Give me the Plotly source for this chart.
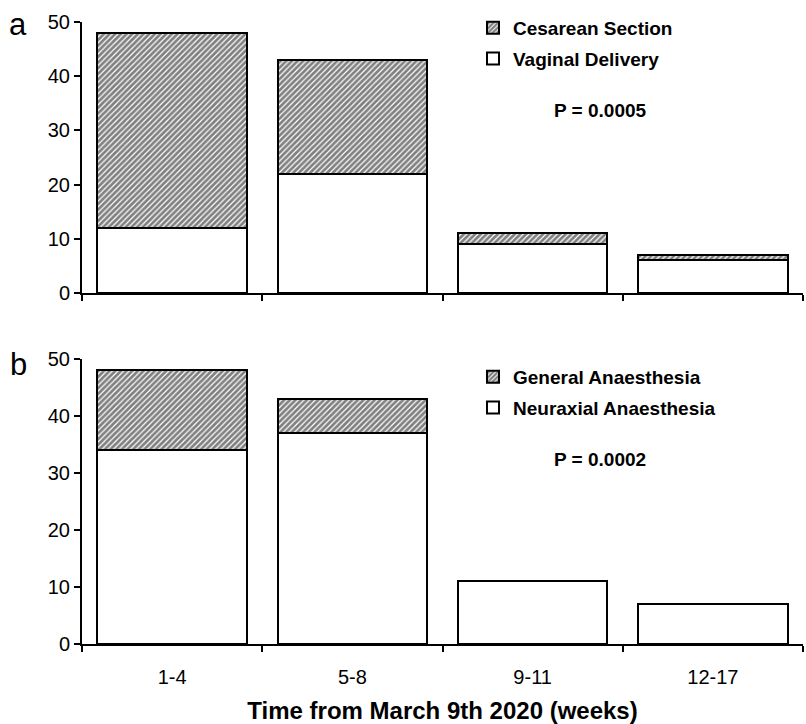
import plotly.graph_objects as go

categories = ["1-4", "5-8", "9-11", "12-17"]
vaginal = [12, 22, 9, 6]
cesarean = [36, 21, 2, 1]
neuraxial = [34, 37, 11, 7]
general = [14, 6, 0, 0]
p_a = "P = 0.0005"
p_b = "P = 0.0002"

FONT = "Arial, Liberation Sans, sans-serif"
W, H = 806, 724

def px_x(x):
    return x / W

def px_y(y):
    return 1 - y / H

hatch = dict(shape="/", fgcolor="black", bgcolor="white", size=4, solidity=0.7)
line = dict(color="black", width=2)
bw = 0.83

fig = go.Figure()
fig.add_trace(go.Bar(x=categories, y=vaginal, name="Vaginal Delivery", width=bw, legendgroup="vd",
                     legendrank=2, marker=dict(color="white", line=line),
                     xaxis="x", yaxis="y", legend="legend"))
fig.add_trace(go.Bar(x=categories, y=cesarean, name="Cesarean Section", width=bw, legendgroup="cs",
                     legendrank=1, marker=dict(color="white", line=line, pattern=hatch),
                     xaxis="x", yaxis="y", legend="legend"))
fig.add_trace(go.Bar(x=categories, y=neuraxial, name="Neuraxial Anaesthesia", width=bw, legendgroup="na",
                     legendrank=2, marker=dict(color="white", line=line),
                     xaxis="x2", yaxis="y2", legend="legend2"))
fig.add_trace(go.Bar(x=categories, y=general, name="General Anaesthesia", width=bw, legendgroup="ga",
                     legendrank=1, marker=dict(color="white", line=line, pattern=hatch),
                     xaxis="x2", yaxis="y2", legend="legend2"))

xdom = [px_x(82), px_x(803)]
common_x = dict(type="category", range=[-0.5, 3.5], showline=True, linecolor="black", linewidth=2,
                ticks="outside", tickson="boundaries", ticklen=6, tickwidth=2, tickcolor="black",
                showgrid=False, zeroline=False, domain=xdom, automargin=False,
                tickfont=dict(family=FONT, size=20, color="black"))
common_y = dict(range=[0, 50], dtick=10, showline=True, linecolor="black", linewidth=2,
                ticks="outside", ticklen=6, tickwidth=2, tickcolor="black", showgrid=False,
                zeroline=False, automargin=False, tickfont=dict(family=FONT, size=20, color="black"))

legend_common = dict(font=dict(family=FONT, size=19, color="black", weight="bold"),
                     traceorder="grouped", bgcolor="rgba(0,0,0,0)", itemwidth=30,
                     xanchor="left", yanchor="top", tracegroupgap=3)

fig.update_layout(
    width=W, height=H,
    margin=dict(l=0, r=0, t=0, b=0, autoexpand=False),
    paper_bgcolor="white", plot_bgcolor="white",
    barmode="stack",
    showlegend=True,
    xaxis=dict(common_x, anchor="y", showticklabels=False),
    yaxis=dict(common_y, domain=[px_y(293), px_y(22)], anchor="x"),
    xaxis2=dict(common_x, anchor="y2", ticklabelstandoff=14,
                title=dict(text="<b>Time from March 9th 2020 (weeks)</b>", standoff=16,
                           font=dict(family=FONT, size=24, color="black"))),
    yaxis2=dict(common_y, domain=[px_y(644), px_y(359)], anchor="x2"),
    legend=dict(legend_common, x=px_x(473), y=px_y(9)),
    legend2=dict(legend_common, x=px_x(473), y=px_y(358)),
    annotations=[
        dict(text="a", x=px_x(18), y=px_y(24), xref="paper", yref="paper", showarrow=False,
             xanchor="center", yanchor="middle", font=dict(family=FONT, size=31, color="black")),
        dict(text="b", x=px_x(18), y=px_y(364), xref="paper", yref="paper", showarrow=False,
             xanchor="center", yanchor="middle", font=dict(family=FONT, size=31, color="black")),
        dict(text="<b>" + p_a + "</b>", x=px_x(600), y=px_y(111), xref="paper", yref="paper",
             xanchor="center", yanchor="middle",
             showarrow=False, font=dict(family=FONT, size=19, color="black")),
        dict(text="<b>" + p_b + "</b>", x=px_x(600), y=px_y(459), xref="paper", yref="paper",
             xanchor="center", yanchor="middle",
             showarrow=False, font=dict(family=FONT, size=19, color="black")),
    ],
)

fig.write_html("out.html", config={"displayModeBar": False},
               post_script="document.body.style.margin='0';")
